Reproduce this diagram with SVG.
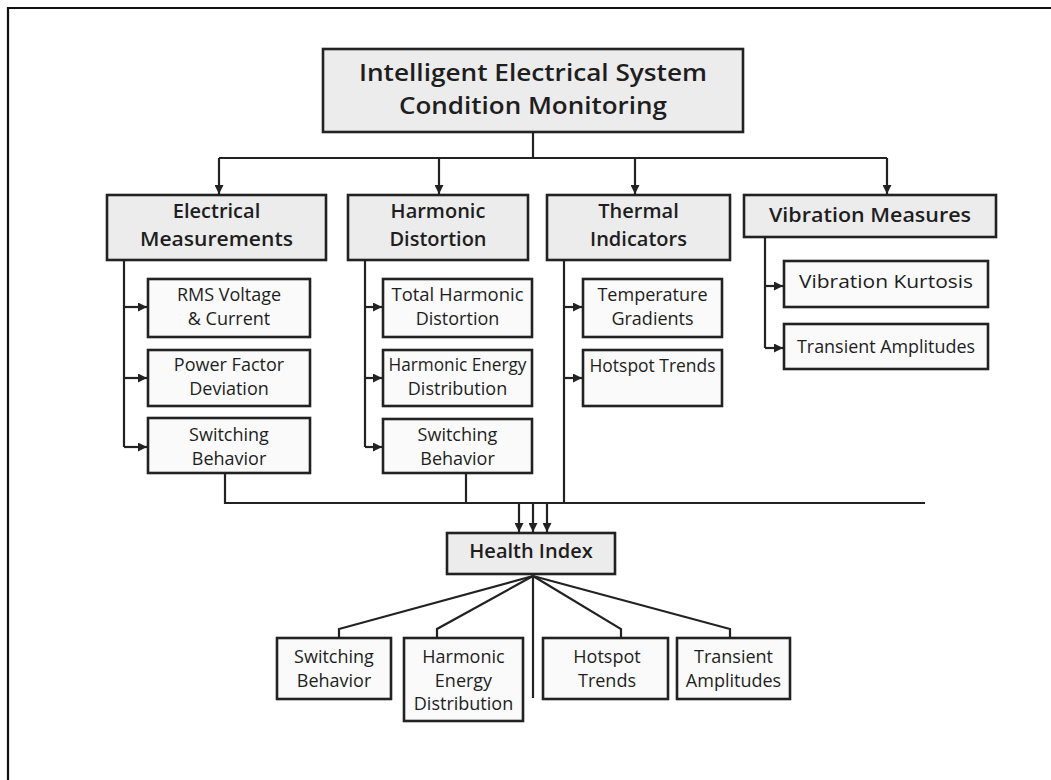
<svg xmlns="http://www.w3.org/2000/svg" width="1051" height="780" viewBox="0 0 1051 780">
  <style>
    .hdr { fill: #ececec; stroke: #222; stroke-width: 2.6; }
    .box { fill: #fafafa; stroke: #222; stroke-width: 2.6; }
    .wire { fill: none; stroke: #222; stroke-width: 2.2; }
    .t-top { font-family: "Open Sans", "Noto Sans", sans-serif; font-size: 24px; font-weight: 600; fill: #1e1e1e; text-anchor: middle; }
    .t-hdr { font-family: "Open Sans", "Noto Sans", sans-serif; font-size: 20px; font-weight: 600; fill: #1e1e1e; text-anchor: middle; }
    .t-sub { font-family: "Open Sans", "Noto Sans", sans-serif; font-size: 18px; font-weight: 500; fill: #1e1e1e; text-anchor: middle; }
    .t-leaf { font-family: "Open Sans", "Noto Sans", sans-serif; font-size: 18px; font-weight: 400; fill: #1e1e1e; text-anchor: middle; }
  </style>
  <defs>
    <marker id="arrow" viewBox="0 0 10 10" refX="10" refY="5" markerWidth="9" markerHeight="9" markerUnits="userSpaceOnUse" orient="auto">
      <path d="M0,0 L10,5 L0,10 Z" fill="#222"/>
    </marker>
  </defs>

  <rect x="0" y="0" width="1051" height="780" fill="#ffffff"/>
  <!-- page frame -->
  <path d="M8,780 L8,8 L1051,8" fill="none" stroke="#111" stroke-width="2.2"/>

  <!-- connectors -->
  <g id="connectors" class="wire">
    <path d="M533,132 L533,158"/>
    <path d="M219,158 L887,158"/>
    <path d="M219,158 L219,194" marker-end="url(#arrow)"/>
    <path d="M439,158 L439,194" marker-end="url(#arrow)"/>
    <path d="M635,158 L635,194" marker-end="url(#arrow)"/>
    <path d="M887,158 L887,194" marker-end="url(#arrow)"/>

    <!-- Electrical Measurements branch -->
    <path d="M124,260 L124,447"/>
    <path d="M124,307 L147,307" marker-end="url(#arrow)"/>
    <path d="M124,378 L147,378" marker-end="url(#arrow)"/>
    <path d="M124,447 L147,447" marker-end="url(#arrow)"/>

    <!-- Harmonic Distortion branch -->
    <path d="M365,260 L365,447"/>
    <path d="M365,307 L382,307" marker-end="url(#arrow)"/>
    <path d="M365,378 L382,378" marker-end="url(#arrow)"/>
    <path d="M365,447 L382,447" marker-end="url(#arrow)"/>

    <!-- Thermal Indicators branch -->
    <path d="M564,260 L564,503"/>
    <path d="M564,307 L582,307" marker-end="url(#arrow)"/>
    <path d="M564,378 L582,378" marker-end="url(#arrow)"/>

    <!-- Vibration Measures branch -->
    <path d="M765,237 L765,348"/>
    <path d="M765,286 L783,286" marker-end="url(#arrow)"/>
    <path d="M765,348 L783,348" marker-end="url(#arrow)"/>

    <!-- collector bus into the health index -->
    <path d="M225,474 L225,503 L925,503"/>
    <path d="M466,474 L466,503"/>
    <path d="M519,503 L519,532" marker-end="url(#arrow)"/>
    <path d="M533,503 L533,532" marker-end="url(#arrow)"/>
    <path d="M547,503 L547,532" marker-end="url(#arrow)"/>

    <!-- health index fan-out -->
    <path d="M533,576 L339,629 L339,638"/>
    <path d="M533,576 L437,629 L437,638"/>
    <path d="M533,576 L533,698"/>
    <path d="M533,576 L621,629 L621,638"/>
    <path d="M533,576 L730,629 L730,638"/>
  </g>

  <!-- root -->
  <g id="root">
    <rect class="hdr" x="323" y="49" width="420" height="83"/>
    <text class="t-top" x="533" y="81" textLength="348" lengthAdjust="spacingAndGlyphs">Intelligent Electrical System</text>
    <text class="t-top" x="533" y="114" textLength="268" lengthAdjust="spacingAndGlyphs">Condition Monitoring</text>
  </g>

  <!-- category headers -->
  <g id="electrical">
    <rect class="hdr" x="107" y="195" width="219" height="65"/>
    <text class="t-hdr" x="216.5" y="218">Electrical</text>
    <text class="t-hdr" x="216.5" y="246" textLength="153" lengthAdjust="spacingAndGlyphs">Measurements</text>
  </g>
  <g id="harmonic">
    <rect class="hdr" x="348" y="195" width="180" height="65"/>
    <text class="t-hdr" x="438" y="218">Harmonic</text>
    <text class="t-hdr" x="438" y="246">Distortion</text>
  </g>
  <g id="thermal">
    <rect class="hdr" x="547" y="195" width="183" height="65"/>
    <text class="t-hdr" x="638.5" y="218">Thermal</text>
    <text class="t-hdr" x="638.5" y="246">Indicators</text>
  </g>
  <g id="vibration">
    <rect class="hdr" x="744" y="195" width="252" height="42"/>
    <text class="t-hdr" x="870" y="222" textLength="202" lengthAdjust="spacingAndGlyphs">Vibration Measures</text>
  </g>

  <!-- electrical measurements children -->
  <g id="rms">
    <rect class="box" x="148" y="279" width="162" height="58"/>
    <text class="t-sub" x="229" y="301">RMS Voltage</text>
    <text class="t-sub" x="229" y="325">&amp; Current</text>
  </g>
  <g id="power-factor">
    <rect class="box" x="148" y="350" width="162" height="56"/>
    <text class="t-sub" x="229" y="371">Power Factor</text>
    <text class="t-sub" x="229" y="395">Deviation</text>
  </g>
  <g id="switching-1">
    <rect class="box" x="148" y="418" width="162" height="55"/>
    <text class="t-sub" x="229" y="441">Switching</text>
    <text class="t-sub" x="229" y="465">Behavior</text>
  </g>

  <!-- harmonic distortion children -->
  <g id="thd">
    <rect class="box" x="383" y="279" width="149" height="58"/>
    <text class="t-sub" x="457.5" y="301" textLength="132" lengthAdjust="spacingAndGlyphs">Total Harmonic</text>
    <text class="t-sub" x="457.5" y="325">Distortion</text>
  </g>
  <g id="harmonic-energy-1">
    <rect class="box" x="383" y="350" width="149" height="56"/>
    <text class="t-sub" x="457.5" y="371" textLength="138" lengthAdjust="spacingAndGlyphs">Harmonic Energy</text>
    <text class="t-sub" x="457.5" y="395">Distribution</text>
  </g>
  <g id="switching-2">
    <rect class="box" x="383" y="419" width="149" height="54"/>
    <text class="t-sub" x="457.5" y="441">Switching</text>
    <text class="t-sub" x="457.5" y="465">Behavior</text>
  </g>

  <!-- thermal indicators children -->
  <g id="temperature">
    <rect class="box" x="583" y="279" width="139" height="58"/>
    <text class="t-sub" x="652.5" y="301">Temperature</text>
    <text class="t-sub" x="652.5" y="325">Gradients</text>
  </g>
  <g id="hotspot-1">
    <rect class="box" x="583" y="350" width="139" height="56"/>
    <text class="t-sub" x="652.5" y="372" textLength="126" lengthAdjust="spacingAndGlyphs">Hotspot Trends</text>
  </g>

  <!-- vibration measures children -->
  <g id="kurtosis">
    <rect class="box" x="784" y="261" width="204" height="46"/>
    <text class="t-sub" x="886" y="288" textLength="174" lengthAdjust="spacingAndGlyphs">Vibration Kurtosis</text>
  </g>
  <g id="transient-1">
    <rect class="box" x="784" y="324" width="204" height="45"/>
    <text class="t-sub" x="886" y="353" textLength="178" lengthAdjust="spacingAndGlyphs">Transient Amplitudes</text>
  </g>

  <!-- health index -->
  <g id="health-index">
    <rect class="hdr" x="447" y="533" width="168" height="41"/>
    <text class="t-hdr" x="531" y="558">Health Index</text>
  </g>

  <!-- health index outputs -->
  <g id="switching-3">
    <rect class="box" x="277" y="638" width="114" height="61"/>
    <text class="t-leaf" x="334" y="663">Switching</text>
    <text class="t-leaf" x="334" y="687">Behavior</text>
  </g>
  <g id="harmonic-energy-2">
    <rect class="box" x="404" y="638" width="119" height="83"/>
    <text class="t-leaf" x="463.5" y="663">Harmonic</text>
    <text class="t-leaf" x="463.5" y="687">Energy</text>
    <text class="t-leaf" x="463.5" y="710">Distribution</text>
  </g>
  <g id="hotspot-2">
    <rect class="box" x="543" y="638" width="125" height="61"/>
    <text class="t-leaf" x="607" y="663">Hotspot</text>
    <text class="t-leaf" x="607" y="687">Trends</text>
  </g>
  <g id="transient-2">
    <rect class="box" x="677" y="638" width="113" height="61"/>
    <text class="t-leaf" x="733.5" y="663">Transient</text>
    <text class="t-leaf" x="733.5" y="687">Amplitudes</text>
  </g>
</svg>
